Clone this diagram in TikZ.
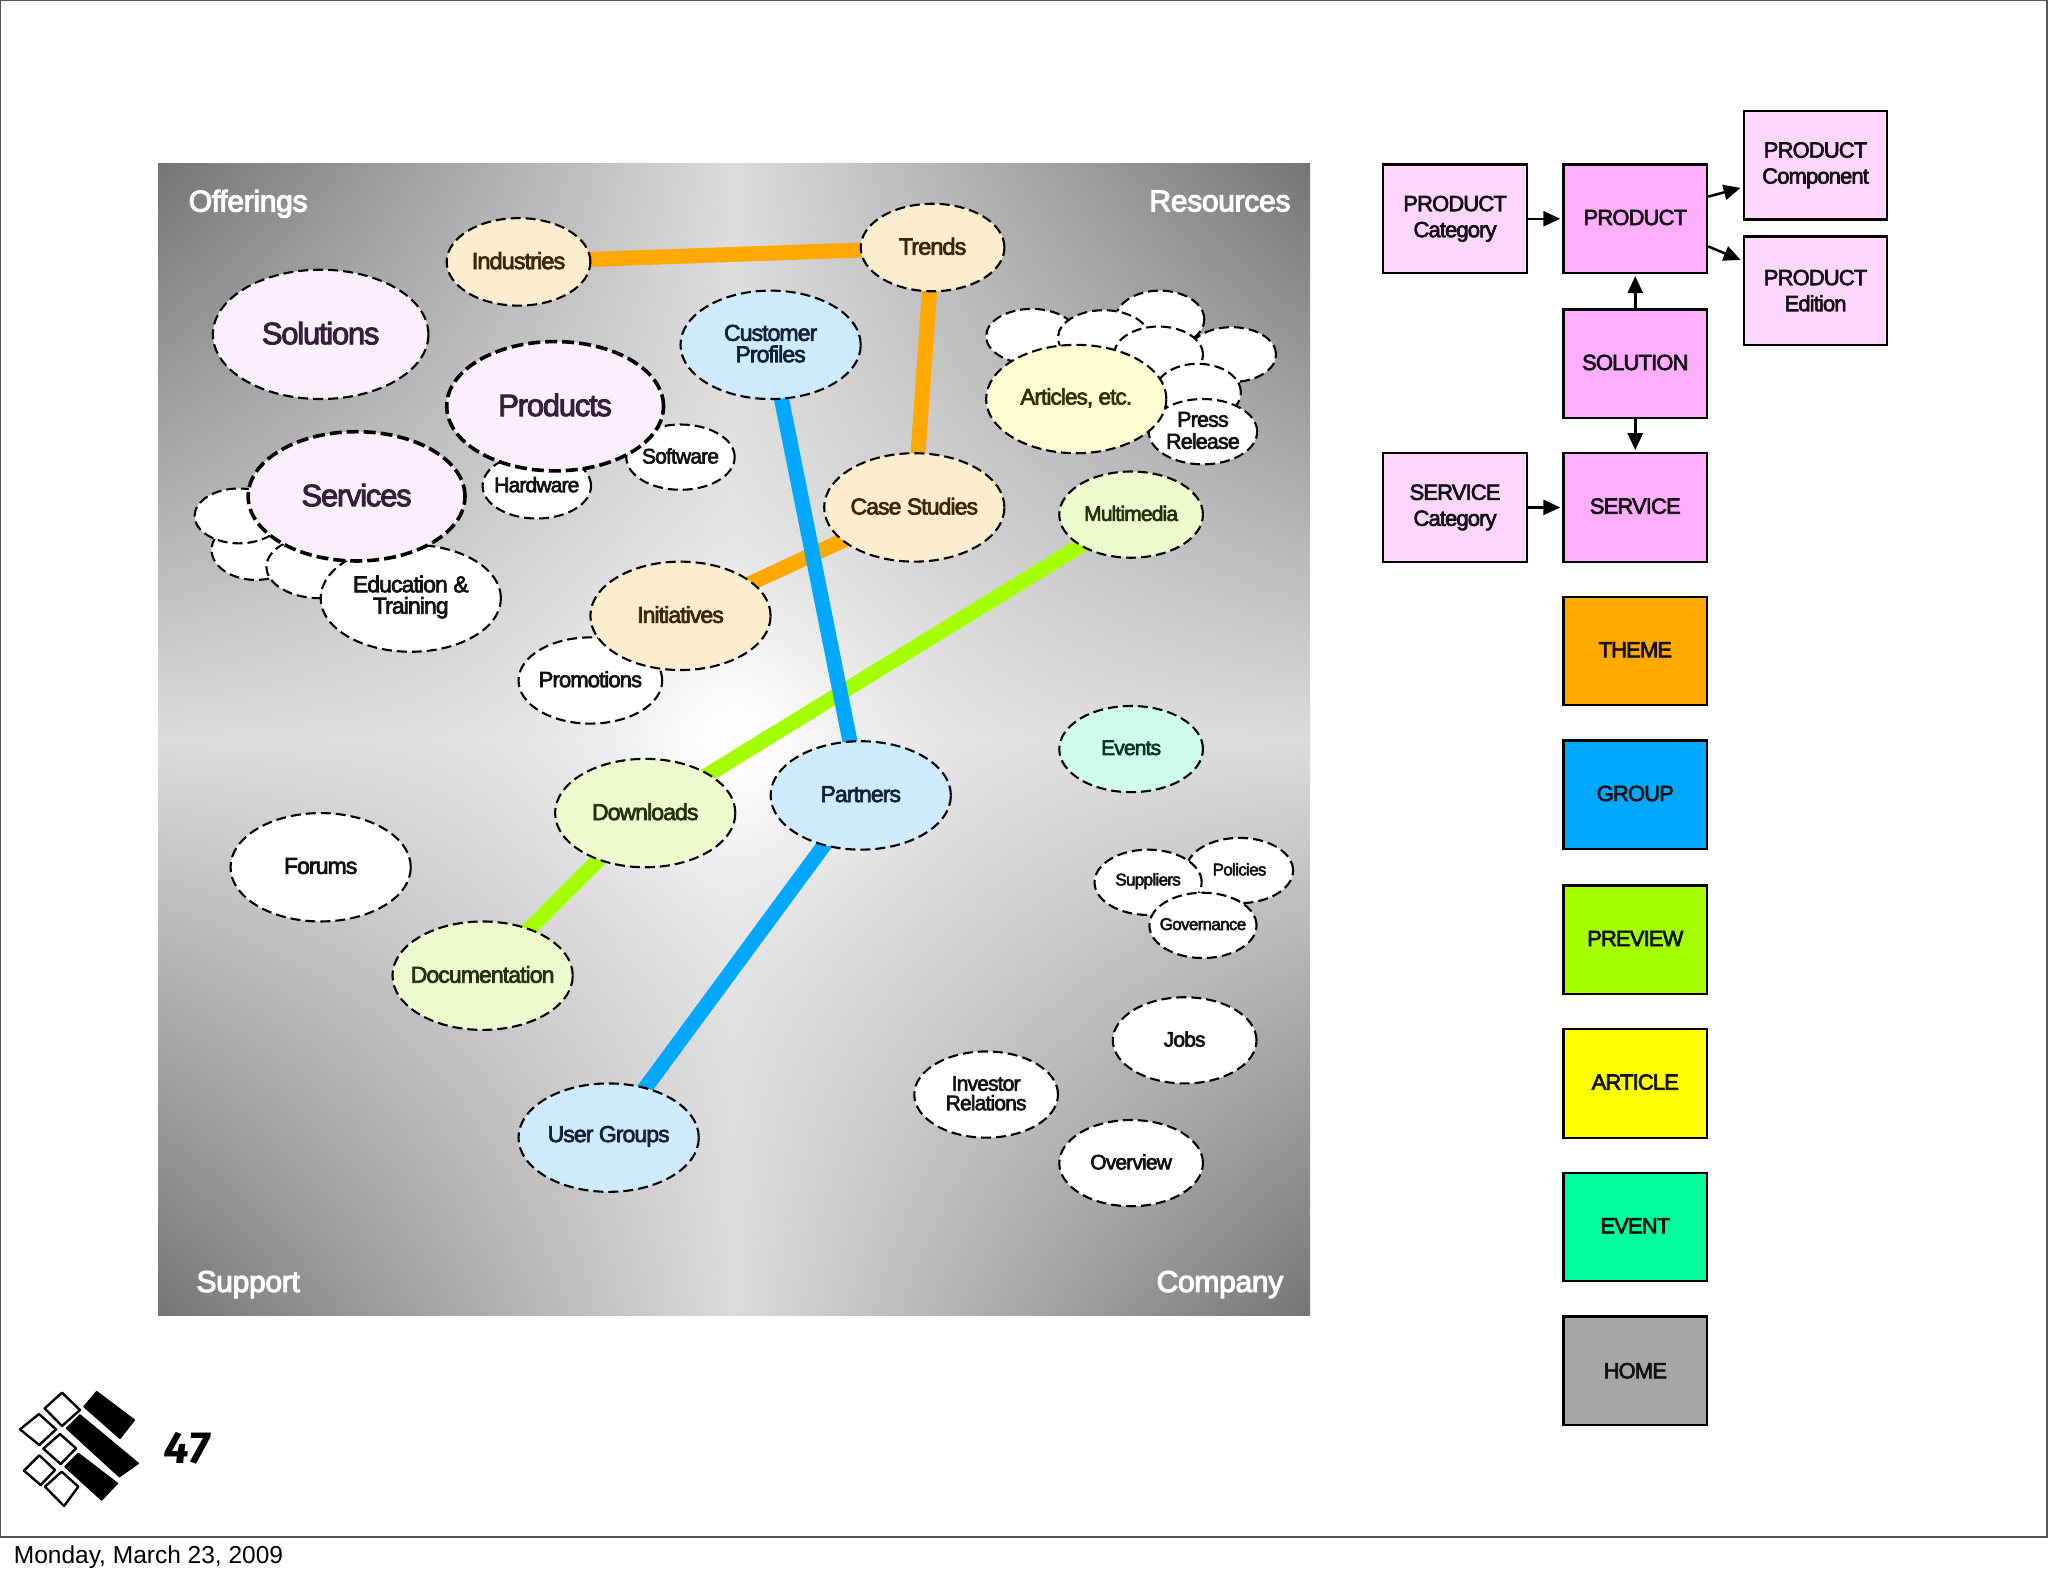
\documentclass[tikz,border=0pt]{standalone}
\usepackage{fontspec}
\setmainfont{Liberation Sans}[FakeBold=3,LetterSpace=-4]
\newfontfamily\plainf{Liberation Sans}
\newfontfamily\cornerf{Liberation Sans}[FakeBold=3.5,LetterSpace=-1]
\newfontfamily\numf{Fira Sans}[FakeSlant=0.12]
\usetikzlibrary{shapes.geometric,arrows.meta,calc}
\pgfdeclarelayer{bgl}\pgfdeclarelayer{conl}
\pgfsetlayers{bgl,conl,main}
\pgfdeclarefunctionalshading{bgstar}{\pgfpoint{-50bp}{-50bp}}{\pgfpoint{50bp}{50bp}}{}{
  25 div abs exch 25 div abs
  2 copy mul
  0.95 exp 0.4 mul neg 0.855 add
  3 1 roll
  dup mul exch dup mul add
  16 mul 1 add 0.14 exch div
  add dup dup
}
\definecolor{cOrange}{HTML}{FFA800}
\definecolor{cBlue}{HTML}{00A8FF}
\definecolor{cGreen}{HTML}{A4FF00}
\definecolor{cPink}{HTML}{FFADFF}
\definecolor{cLPink}{HTML}{FFD6FF}
\definecolor{cYellow}{HTML}{FFFF00}
\definecolor{cEvent}{HTML}{00FF9C}
\definecolor{cHome}{HTML}{A7A5A8}
\definecolor{eCream}{HTML}{FDEDCF}
\definecolor{ePink}{HTML}{FCEEFD}
\definecolor{eBlue}{HTML}{CDEBFC}
\definecolor{eYellow}{HTML}{FEFDD2}
\definecolor{eGreen}{HTML}{ECFACE}
\definecolor{eTeal}{HTML}{CFFBEC}
\definecolor{tCream}{HTML}{3A2608}
\definecolor{tPink}{HTML}{33203A}
\definecolor{tBlue}{HTML}{0F2238}
\definecolor{tYellow}{HTML}{333008}
\definecolor{tGreen}{HTML}{22330A}
\definecolor{tTeal}{HTML}{0A3328}
\definecolor{tWhite}{HTML}{111111}
\definecolor{frameC}{HTML}{555555}
\tikzset{
  bub/.style={ellipse,draw=black,fill=white,line width=2.1pt,dash pattern=on 10pt off 5pt,inner sep=0pt},
  bold bub/.style={line width=3.6pt,dash pattern=on 12pt off 5pt},
  creamb/.style={fill=eCream},
  pinkb/.style={fill=ePink},
  blueb/.style={fill=eBlue},
  yelb/.style={fill=eYellow},
  greenb/.style={fill=eGreen},
  tealb/.style={fill=eTeal},
  plainb/.style={fill=white},
  rbox/.style={rectangle,draw=black,line width=2.2pt,inner sep=0pt,minimum width=143.7pt,minimum height=108.4pt,align=center,text=tWhite,font=\fontsize{22}{26}\selectfont},
  linkline/.style={line width=15pt},
  arr/.style={line width=2.5pt,-{Triangle[length=17pt,width=15pt]},shorten >=2pt},
  corner/.style={text=white,font=\cornerf\fontsize{30}{30}\selectfont},
  logoD/.style={draw=black,line width=2.4pt,fill=white,line join=round},
  logoK/.style={fill=black,draw=black,line width=1.5pt,line join=round},
}
\newcommand{\bub}[9]{%
  \pgfmathsetmacro\lsk{#7*.93}%
  \node[bub,#6,minimum width={2*1.30612*#4 pt},minimum height={2*1.30612*#5 pt},
    label={[text=#9,align=center,inner sep=0pt,yshift=1.2pt,font=\fontsize{#7}{\lsk}\selectfont]center:{#8}}]
    (#1) at (#2,#3) {};}
\newcommand{\rb}[5]{\node[rbox,fill=#4] (#1) at (#2,#3) {#5};}
\newcommand{\up}[1]{\raisebox{1.3pt}[\height][\depth]{#1}}
\begin{document}
\begin{tikzpicture}[x=1.30612pt,y=-1.30612pt]
\useasboundingbox (0,0) rectangle (1568,1206.6);
\begin{pgfonlayer}{bgl}
  \fill[white] (0,0) rectangle (1568,1206.6);
  \shade[shading=bgstar] (121,125.5) rectangle (1003,1007.5);
  \draw[frameC,line width=2pt] (0,0) rectangle (1567.4,1176.5);
\end{pgfonlayer}
\node[corner] (cOff) at (190,156) {Offerings};
\node[corner] (cRes) at (934,154) {Resources};
\node[corner] (cSup) at (190,983.5) {Support};
\node[corner] (cCom) at (934,983.5) {Company};
% Bubbles
\bub{ind}{397}{200.5}{55}{33.5}{creamb}{23.5}{Industries}{tCream}
\bub{tre}{714}{189.5}{55}{33.5}{creamb}{23.5}{Trends}{tCream}
\bub{sol}{245.5}{256}{82.5}{49.5}{pinkb}{31}{Solutions}{tPink}
\bub{cus}{590}{264}{69}{41.5}{blueb}{23}{Customer\\Profiles}{tBlue}
\bub{sof}{521}{350}{41.5}{25}{plainb}{21}{Software}{tWhite}
\bub{har}{411}{372}{41.5}{25}{plainb}{21}{Hardware}{tWhite}
\bub{pro}{425}{311}{83}{49.5}{pinkb,bold bub}{31}{Products}{tPink}
\bub{bsb}{196}{421}{34}{23}{plainb}{20}{}{tWhite}
\bub{bsa}{183}{395}{34}{21}{plainb}{20}{}{tWhite}
\bub{bsc}{245}{434}{41}{24}{plainb}{20}{}{tWhite}
\bub{edu}{314.5}{458}{69}{41}{plainb}{23}{Education \&\\Training}{tWhite}
\bub{ser}{273}{380}{83}{49.5}{pinkb,bold bub}{31}{Services}{tPink}
\bub{pmo}{452}{521}{55}{33}{plainb}{22}{Promotions}{tWhite}
\bub{ini}{521}{471.5}{69}{41.5}{creamb}{23}{Initiatives}{tCream}
\bub{cas}{700}{388.5}{69}{41.5}{creamb}{23}{Case Studies}{tCream}
\bub{blc}{888}{244.5}{34}{22}{plainb}{20}{}{tWhite}
\bub{bla}{790}{257.5}{35}{21}{plainb}{20}{}{tWhite}
\bub{blb}{845}{258.5}{35}{21}{plainb}{20}{}{tWhite}
\bub{ble}{943}{271.5}{34}{21}{plainb}{20}{}{tWhite}
\bub{bld}{887}{271.5}{34}{21.5}{plainb}{20}{}{tWhite}
\bub{blf}{917}{300.5}{33}{22}{plainb}{20}{}{tWhite}
\bub{pre}{921}{330.5}{41.5}{25}{plainb}{21.5}{Press\\[2pt]Release}{tWhite}
\bub{art}{824}{305.5}{69}{41.5}{yelb}{22.5}{Articles, etc.}{tYellow}
\bub{mul}{866}{394}{55}{33}{greenb}{21}{Multimedia}{tGreen}
\bub{eve}{866}{573.5}{55}{33}{tealb}{21}{Events}{tTeal}
\bub{pol}{949}{666.5}{41}{25}{plainb}{17}{Policies}{tWhite}
\bub{sup}{879}{675.5}{41}{25}{plainb}{17}{Suppliers}{tWhite}
\bub{gov}{921}{708.5}{41}{25}{plainb}{17}{Governance}{tWhite}
\bub{job}{907}{796.5}{55}{33}{plainb}{21}{Jobs}{tWhite}
\bub{inv}{755}{838}{55}{33}{plainb}{21}{Investor\\Relations}{tWhite}
\bub{ove}{866}{890.5}{55}{33}{plainb}{21}{Overview}{tWhite}
\bub{dow}{494}{622.5}{69}{41.5}{greenb}{23}{Downloads}{tGreen}
\bub{par}{659}{609}{69}{41.5}{blueb}{23}{Partners}{tBlue}
\bub{for}{245.5}{664}{69}{41.5}{plainb}{23}{Forums}{tWhite}
\bub{doc}{369.5}{747}{69}{41.5}{greenb}{23}{Documentation}{tGreen}
\bub{use}{466}{871}{69}{41.5}{blueb}{23}{User Groups}{tBlue}
% Connectors
\begin{pgfonlayer}{conl}
  \draw[linkline,cOrange] (ind.center) -- (tre.center);
  \draw[linkline,cOrange] (tre.center) -- (cas.center);
  \draw[linkline,cOrange] (ini.center) -- (cas.center);
  \draw[linkline,cGreen] (mul.center) -- (dow.center);
  \draw[linkline,cGreen] (dow.center) -- (doc.center);
  \draw[linkline,cBlue] (cus.center) -- (par.center);
  \draw[linkline,cBlue] (par.center) -- (use.center);
\end{pgfonlayer}
% Legend boxes
\rb{bpc}{1114}{167.5}{cLPink}{PRODUCT\\Category}
\rb{bpr}{1252}{167.5}{cPink}{\up{PRODUCT}}
\rb{bpm}{1390}{126.5}{cLPink}{PRODUCT\\Component}
\rb{bpe}{1390}{222.5}{cLPink}{PRODUCT\\Edition}
\rb{bso}{1252}{278.5}{cPink}{\up{SOLUTION}}
\rb{bsn}{1114}{388.5}{cLPink}{SERVICE\\Category}
\rb{bse}{1252}{388.5}{cPink}{\up{SERVICE}}
\rb{bth}{1252}{498.5}{cOrange}{\up{THEME}}
\rb{bgr}{1252}{608.5}{cBlue}{\up{GROUP}}
\rb{bpv}{1252}{719.5}{cGreen}{\up{PREVIEW}}
\rb{bar}{1252}{829.5}{cYellow}{\up{ARTICLE}}
\rb{bev}{1252}{939.5}{cEvent}{\up{EVENT}}
\rb{bho}{1252}{1049.5}{cHome}{HOME}
\draw[arr] (bpc.east) -- (bpr.west);
\draw[arr] (bsn.east) -- (bse.west);
\draw[arr] (bso.north) -- (bpr.south);
\draw[arr] (bso.south) -- (bse.north);
\draw[arr] ($(bpr.north east)!0.30!(bpr.south east)$) -- ($(bpm.north west)!0.70!(bpm.south west)$);
\draw[arr] ($(bpr.north east)!0.75!(bpr.south east)$) -- ($(bpe.north west)!0.23!(bpe.south west)$);
% Logo
\begin{scope}[x=.33333pt,y=-.33333pt,yshift=-1350pt]
  \draw[logoD] (186,128) -- (240,180) -- (186,228) -- (134,175) -- cycle;
  \draw[logoD] (117,192) -- (168,238) -- (118,285) -- (60,238) -- cycle;
  \draw[logoD] (180,252) -- (228,295) -- (182,342) -- (130,296) -- cycle;
  \draw[logoD] (118,316) -- (165,360) -- (122,405) -- (72,362) -- cycle;
  \draw[logoD] (185,365) -- (235,410) -- (192,468) -- (135,410) -- cycle;
  \draw[logoK] (290,125) -- (403,210) -- (360,265) -- (252,170) -- cycle;
  \draw[logoK] (240,195) -- (415,340) -- (358,380) -- (200,235) -- cycle;
  \draw[logoK] (235,310) -- (352,400) -- (305,450) -- (195,350) -- cycle;
\end{scope}
\node[inner sep=0pt,font=\numf\bfseries\fontsize{45}{45}\selectfont] (pnum) at (142,1108.5) {47};
\node[inner sep=0pt,anchor=west,font=\plainf\fontsize{24.5}{26}\selectfont] (date) at (10.5,1192.5) {Monday, March 23, 2009};
\end{tikzpicture}
\end{document}
